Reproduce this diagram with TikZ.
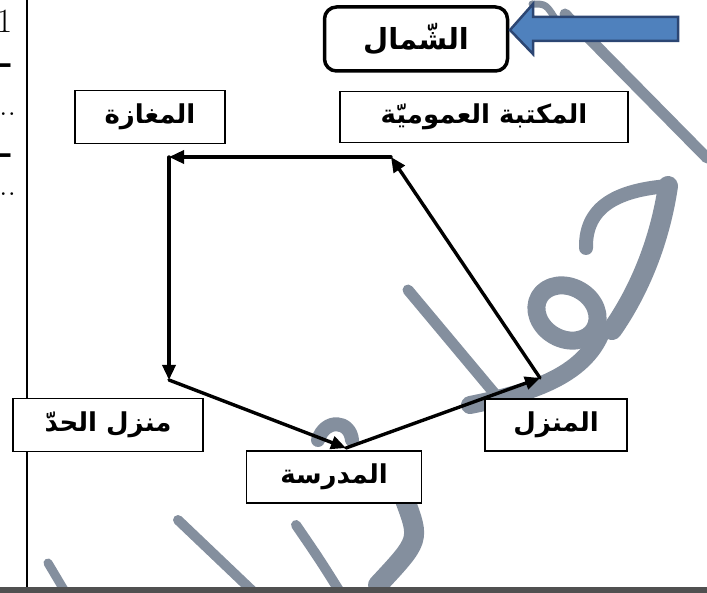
\documentclass[tikz,border=0pt]{standalone}
\usepackage{fontspec}
\usepackage{tkz-euclide}
\usetikzlibrary{arrows.meta}
\newfontfamily\arabicfont[Script=Arabic]{DejaVu Sans}
\TeXXeTstate=1
\definecolor{azulflecha}{RGB}{79,129,189}
\definecolor{azulborde}{RGB}{44,70,115}
\definecolor{grismarca}{RGB}{132,143,158}
\definecolor{grisbarra}{RGB}{80,80,80}
\newcommand{\lugar}[1]{\beginR #1\endR\hspace{14pt}}
\tikzset{
  caja/.style={draw=black, line width=1.6pt, fill=white, inner sep=0pt,
    font=\arabicfont\bfseries\fontsize{26}{30}\selectfont},
  ruta/.style={line width=3.4pt, -{Triangle[length=15pt,width=13pt]}},
  trazo/.style={grismarca, line cap=round, line join=round},
  margen/.style={anchor=base west, inner sep=0pt, font=\fontsize{34}{34}\selectfont},
  guion/.style={margen, font=\bfseries\fontsize{40}{40}\selectfont},
}

\begin{document}
\begin{tikzpicture}[x=1pt,y=-1pt]
        \useasboundingbox (0,0) rectangle (707,593);
        \clip (0,0) rectangle (707,593);

        % Paso 1: marca de agua (trazos grises de fondo)
        \draw[trazo, line width=11pt] (565,14) -- (707,158);
        \draw[trazo, line width=7pt] (532,4) .. controls (546,4) .. (556,20);
        \draw[trazo, line width=20pt] (668,186) .. controls (660,240) and (640,290) .. (612,330);
        \draw[trazo, line width=14pt] (668,186) .. controls (620,190) and (585,205) .. (586,248);
        \draw[trazo, line width=18pt, rotate around={-30:(567,313)}] (567,313) ellipse (32 and 26);
        \draw[trazo, line width=18pt] (600,335) .. controls (580,380) and (520,395) .. (470,405);
        \draw[trazo, line width=11pt] (408,290) -- (500,400);
        \draw[trazo, line width=14pt] (318,440) .. controls (325,418) and (350,420) .. (352,440);
        \draw[trazo, line width=20pt] (405,500) .. controls (420,540) .. (378,585);
        \draw[trazo, line width=10pt] (178,520) -- (262,600);
        \draw[trazo, line width=10pt] (296,525) .. controls (320,560) .. (345,600);
        \draw[trazo, line width=9pt] (48,563) -- (70,600);

        % Paso 2: margen de la hoja
        \node[margen] (uno) at (-3.5,33) {1};
        \node[guion] (gui1) at (-2,75) {-};
        \node[margen] (pun1) at (-1,116) {..};
        \node[guion] (gui2) at (-2,165) {-};
        \node[margen] (pun2) at (-1,196) {..};
        \draw[line width=1.2pt] (27,0) -- (27,588);
        \fill[grisbarra] (0,587) rectangle (707,593);

        % Paso 3: define los puntos del recorrido
        \tkzDefPoint(540,378){M} % el de la casa
        \tkzDefPoint(391,157){K} % biblioteca
        \tkzDefPoint(169,157){G} % tienda
        \tkzDefPoint(169,380){J} % vecino
        \tkzDefPoint(346,448){D} % escuela

        % Paso 4: dibuja el recorrido con flechas
        \tkzDrawSegments[ruta](M,K K,G G,J J,D D,M)

        % Paso 5: las cajas de los lugares
        \node[caja, minimum width=150pt, minimum height=53pt] (nG) at (150,117) {\lugar{المغازة}};
        \node[caja, minimum width=288pt, minimum height=51pt] (nK) at (484,117) {\lugar{المكتبة العموميّة}};
        \node[caja, minimum width=190pt, minimum height=53pt] (nJ) at (108,425) {\lugar{منزل الحدّ}};
        \node[caja, minimum width=175pt, minimum height=52pt] (nD) at (334,477) {\lugar{المدرسة}};
        \node[caja, minimum width=142pt, minimum height=52pt] (nM) at (556,425) {\lugar{المنزل}};

        % Paso 6: el norte y su flecha azul
        \node[caja, rounded corners=12pt, line width=3.5pt, minimum width=183pt, minimum height=64pt,
            font=\arabicfont\bfseries\fontsize{29}{32}\selectfont] (nN) at (416,39) {\lugar{الشّمال}};
        \draw[azulborde, fill=azulflecha, line width=2.5pt] (510,30) -- (533,4) -- (533,17) -- (678,17)
            -- (678,41) -- (533,41) -- (533,54) -- cycle;
    \end{tikzpicture}
\end{document}
